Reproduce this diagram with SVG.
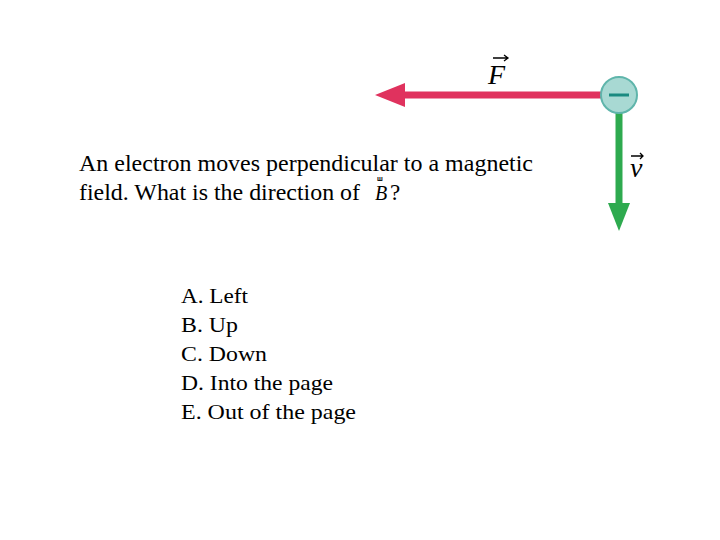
<svg xmlns="http://www.w3.org/2000/svg" width="720" height="540" viewBox="0 0 720 540">
<style>
.t{font-family:"Liberation Serif",serif;font-size:23px;fill:#000}
.o{font-family:"Liberation Serif",serif;font-size:22px;fill:#000}
.m{font-family:"Liberation Serif",serif;font-style:italic;fill:#000}
</style>
<rect width="720" height="540" fill="#fff"/>
<g id="connectors">
<line x1="400" y1="95" x2="603" y2="95" stroke="#e0325e" stroke-width="7"/>
<polygon points="375,95 405,83 405,107" fill="#e0325e"/>
<line x1="619" y1="113" x2="619" y2="206" stroke="#2eaa4f" stroke-width="7"/>
<polygon points="619,231 608,203 630,203" fill="#2eaa4f"/>
</g>
<g id="electron">
<circle cx="619" cy="95" r="18" fill="#a8d9d3" stroke="#5fb5ab" stroke-width="2"/>
<line x1="609" y1="95" x2="629" y2="95" stroke="#1a8a80" stroke-width="3"/>
</g>
<g id="labelF">
<text class="m" x="488" y="84" font-size="28">F</text>
<path d="M493,58 H508 M504,55 L508,58 L504,61" stroke="#000" stroke-width="1.3" fill="none"/>
</g>
<g id="labelV">
<text class="m" x="630" y="177" font-size="28">v</text>
<path d="M631,156 H643 M640,153 L643,156 L640,159" stroke="#000" stroke-width="1.3" fill="none"/>
</g>
<g id="question">
<text class="t" x="79" y="171" textLength="454" lengthAdjust="spacingAndGlyphs">An electron moves perpendicular to a magnetic</text>
<text class="t" x="79" y="200" textLength="281" lengthAdjust="spacingAndGlyphs">field. What is the direction of</text>
<text class="m" x="375" y="200" font-size="20">B</text>
<text class="t" x="390" y="200">?</text>
<text x="377" y="181" font-family="Liberation Sans,sans-serif" font-size="7" font-weight="bold">ш</text>
</g>
<g id="options">
<text class="o" x="181" y="303" textLength="67" lengthAdjust="spacingAndGlyphs">A. Left</text>
<text class="o" x="181" y="332" textLength="57" lengthAdjust="spacingAndGlyphs">B. Up</text>
<text class="o" x="181" y="361" textLength="86" lengthAdjust="spacingAndGlyphs">C. Down</text>
<text class="o" x="181" y="390" textLength="152" lengthAdjust="spacingAndGlyphs">D. Into the page</text>
<text class="o" x="181" y="419" textLength="175" lengthAdjust="spacingAndGlyphs">E. Out of the page</text>
</g>
</svg>
